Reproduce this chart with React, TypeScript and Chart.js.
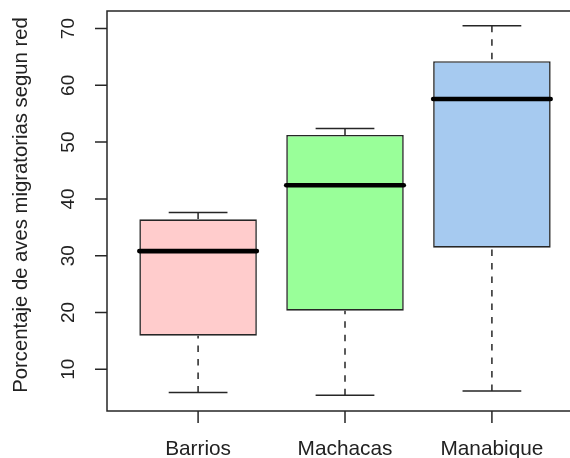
import React, { useEffect, useRef } from "react";
import { Chart, registerables } from "chart.js";

Chart.register(...registerables);

const categories = ["Barrios", "Machacas", "Manabique"];
const lowerWhisker = [5.9, 5.4, 6.15];
const q1 = [15.9, 20.3, 31.4];
const median = [30.8, 42.4, 57.6];
const q3 = [36.4, 51.25, 64.25];
const upperWhisker = [37.6, 52.4, 70.5];
const yTicks = [10, 20, 30, 40, 50, 60, 70];
const yTitle = "Porcentaje de aves migratorias segun red";

const boxColors = ["#FFCCCC", "#99FF99", "#A6CAF0"];
const FONT = "'Liberation Sans', Arial, sans-serif";
const INK = "#262626";
const TEXT = "#222222";

const boxPlotPlugin = {
  id: "boxplotExtras",
  afterDatasetsDraw(chart: any) {
    const { ctx } = chart;
    const xs = chart.scales.x;
    const ys = chart.scales.y;
    const meta = chart.getDatasetMeta(0);
    ctx.save();
    categories.forEach((_, i) => {
      const x = xs.getPixelForValue(i + 1);
      const bar = meta.data[i];
      const bw = bar.width;
      const stapleHalf = bw / 4;
      const yLo = ys.getPixelForValue(lowerWhisker[i]);
      const yQ1 = ys.getPixelForValue(q1[i]);
      const yQ3 = ys.getPixelForValue(q3[i]);
      const yHi = ys.getPixelForValue(upperWhisker[i]);
      const yMed = ys.getPixelForValue(median[i]);
      ctx.strokeStyle = INK;
      ctx.lineWidth = 1.5;
      ctx.lineCap = "butt";
      ctx.setLineDash([6.5, 7]);
      ctx.beginPath();
      ctx.moveTo(x, yLo);
      ctx.lineTo(x, yQ1);
      ctx.moveTo(x, yHi);
      ctx.lineTo(x, yQ3);
      ctx.stroke();
      ctx.setLineDash([]);
      ctx.beginPath();
      ctx.moveTo(x - stapleHalf, yLo);
      ctx.lineTo(x + stapleHalf, yLo);
      ctx.moveTo(x - stapleHalf, yHi);
      ctx.lineTo(x + stapleHalf, yHi);
      ctx.stroke();
      ctx.strokeStyle = "#000000";
      ctx.lineWidth = 4.6;
      ctx.lineCap = "round";
      ctx.beginPath();
      ctx.moveTo(x - bw / 2, yMed);
      ctx.lineTo(x + bw / 2, yMed);
      ctx.stroke();
    });
    ctx.restore();
  },
  afterDraw(chart: any) {
    const { ctx, chartArea } = chart;
    const xs = chart.scales.x;
    const ys = chart.scales.y;
    ctx.save();
    ctx.strokeStyle = INK;
    ctx.lineWidth = 1.5;
    ctx.lineCap = "butt";
    ctx.strokeRect(chartArea.left, chartArea.top, chartArea.right - chartArea.left, chartArea.bottom - chartArea.top);
    const tl = 12;
    ctx.beginPath();
    yTicks.forEach((v) => {
      const y = ys.getPixelForValue(v);
      ctx.moveTo(chartArea.left - tl, y);
      ctx.lineTo(chartArea.left, y);
    });
    categories.forEach((_, i) => {
      const x = xs.getPixelForValue(i + 1);
      ctx.moveTo(x, chartArea.bottom);
      ctx.lineTo(x, chartArea.bottom + tl);
    });
    ctx.stroke();
    ctx.fillStyle = TEXT;
    ctx.font = `19px ${FONT}`;
    ctx.textAlign = "center";
    ctx.textBaseline = "alphabetic";
    yTicks.forEach((v) => {
      const y = ys.getPixelForValue(v);
      ctx.save();
      ctx.translate(chartArea.left - 33, y);
      ctx.rotate(-Math.PI / 2);
      ctx.fillText(String(v), 0, 0);
      ctx.restore();
    });
    ctx.font = `20.8px ${FONT}`;
    categories.forEach((c, i) => {
      const x = xs.getPixelForValue(i + 1);
      ctx.fillText(c, x, chartArea.bottom + 43.5);
    });
    ctx.font = `20.3px ${FONT}`;
    ctx.save();
    ctx.translate(chartArea.left - 80, (chartArea.top + chartArea.bottom) / 2 - 6);
    ctx.rotate(-Math.PI / 2);
    ctx.fillText(yTitle, 0, 0);
    ctx.restore();
    ctx.restore();
  },
};

export default function App() {
  const ref = useRef<HTMLCanvasElement | null>(null);
  useEffect(() => {
    if (!ref.current) return;
    const chart = new Chart(ref.current, {
      type: "bar",
      data: {
        datasets: [
          {
            data: categories.map((_, i) => ({ x: i + 1, y: [q1[i], q3[i]] })) as any,
            backgroundColor: boxColors,
            borderColor: INK,
            borderWidth: 1.6,
            borderSkipped: false,
            barPercentage: 0.8,
            categoryPercentage: 1,
          },
        ],
      },
      options: {
        responsive: false,
        animation: false,
        devicePixelRatio: 1,
        layout: { padding: { left: 107, top: 11, bottom: 47, right: 17 } },
        plugins: { legend: { display: false }, tooltip: { enabled: false }, title: { display: false } },
        scales: {
          x: {
            type: "linear",
            display: false,
            offset: false,
            grid: { offset: false },
            min: 0.38,
            max: 3.62,
            afterBuildTicks: (s: any) => {
              s.ticks = categories.map((_, i) => ({ value: i + 1 }));
            },
          },
          y: {
            type: "linear",
            display: false,
            min: 2.63,
            max: 73.1,
            afterBuildTicks: (s: any) => {
              s.ticks = yTicks.map((v) => ({ value: v }));
            },
          },
        },
      },
      plugins: [boxPlotPlugin],
    });
    return () => chart.destroy();
  }, []);
  return (
    <div style={{ position: "absolute", left: 0, top: 0, width: 570, height: 458, overflow: "hidden", background: "#fff" }}>
      <canvas ref={ref} width={600} height={458} style={{ display: "block" }} />
    </div>
  );
}
